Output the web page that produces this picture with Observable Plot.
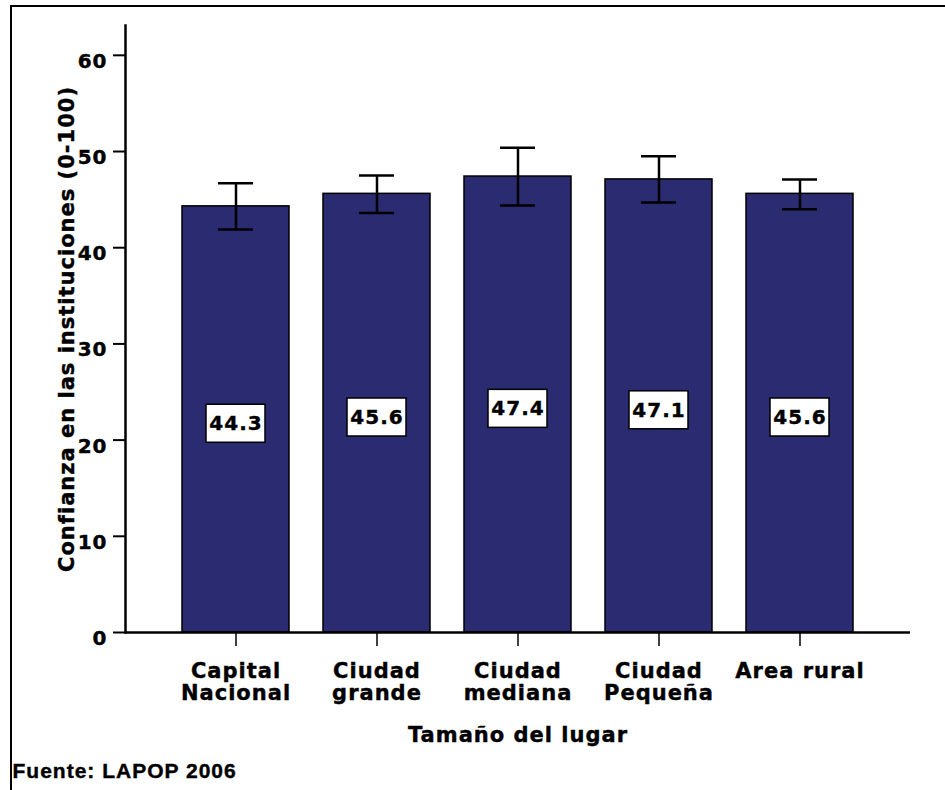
<!DOCTYPE html>
<html>
<head>
<meta charset="utf-8">
<script src="https://cdn.jsdelivr.net/npm/d3@7"></script>
<script src="https://cdn.jsdelivr.net/npm/@observablehq/plot@0.6"></script>
<style>
  html, body { margin: 0; padding: 0; background: #fff; }
  #wrap { position: relative; width: 945px; height: 790px; overflow: hidden; }
  #border { position: absolute; left: 10px; top: 5px; right: -5px; bottom: -5px;
            border-top: 2.5px solid #000; border-left: 2px solid #000; pointer-events: none; }
  svg text { letter-spacing: 1px; stroke: #000; stroke-width: 0.4px; }
  g[aria-label="valuelabel"] text { letter-spacing: 0; }
  g[aria-label="caption"] text { letter-spacing: 0; stroke-width: 0.5px; }
  g[aria-label="ytitle"] text { letter-spacing: 0.4px; }
  g[aria-label="ylabels"] text { letter-spacing: 0.5px; }
</style>
</head>
<body>
<div id="wrap"><div id="border"></div></div>
<script>
const categories = ["Capital\nNacional", "Ciudad\ngrande", "Ciudad\nmediana", "Ciudad\nPequeña", "Area rural"];
const values = [44.3, 45.6, 47.4, 47.1, 45.6];
const ciLow = [41.9, 43.6, 44.4, 44.7, 44.0];
const ciHigh = [46.7, 47.5, 50.4, 49.5, 47.1];
const yTicks = [0, 10, 20, 30, 40, 50, 60];
const yTitle = "Confianza en las instituciones (0-100)";
const xTitle = "Tamaño del lugar";
const caption = "Fuente: LAPOP 2006";

const data = categories.map((c, i) => ({cat: c, v: values[i], lo: ciLow[i], hi: ciHigh[i]}));
const labelCenter = d => d.v / 2 - 0.45;

const chart = Plot.plot({
  width: 945,
  height: 790,
  marginLeft: 125,
  marginRight: 35,
  marginTop: 25,
  marginBottom: 158,
  style: {fontFamily: "DejaVu Sans", fontWeight: "bold", color: "#000", background: "transparent", overflow: "visible"},
  x: {domain: categories, paddingInner: 0.24, paddingOuter: 0.40, label: null},
  y: {domain: [0, 63.1], label: null},
  marks: [
    Plot.barY(data, {x: "cat", y: "v", fill: "#2a2b70", stroke: "#000", strokeWidth: 1.5}),
    Plot.ruleX(data, {x: "cat", y1: "lo", y2: "hi", stroke: "#000", strokeWidth: 2.5}),
    Plot.tickY(data, {x: "cat", y: "lo", insetLeft: 36, insetRight: 36, stroke: "#000", strokeWidth: 2.5}),
    Plot.tickY(data, {x: "cat", y: "hi", insetLeft: 36, insetRight: 36, stroke: "#000", strokeWidth: 2.5}),
    Plot.barY(data, {x: "cat", y1: d => labelCenter(d) - 1.975, y2: d => labelCenter(d) + 1.975,
                     insetLeft: 24, insetRight: 24, fill: "#fff", stroke: "#000", strokeWidth: 1.5}),
    Plot.text(data, {x: "cat", y: labelCenter, text: d => d.v.toFixed(1), fontSize: 20,
                     fontWeight: "bold", fill: "#000", ariaLabel: "valuelabel"}),
    Plot.ruleY([0], {stroke: "#000", strokeWidth: 2.5}),
    Plot.frame({anchor: "left", stroke: "#000", strokeWidth: 2.5}),
    Plot.axisY({ticks: yTicks, tickSize: 12, strokeWidth: 2, tickFormat: () => "", label: null}),
    Plot.axisY({ticks: yTicks, tickSize: 0, tickPadding: 18, fontSize: 20, dy: 6,
                tickFormat: d => String(d), label: null, ariaLabel: "ylabels"}),
    Plot.axisX({tickSize: 14, tickPadding: 16, fontSize: 21, lineHeight: 1.05, strokeWidth: 1.5, label: null}),
    Plot.text([yTitle], {frameAnchor: "left", rotate: -90, dx: -58, textAnchor: "middle", text: d => d, fontSize: 21,
                         fontWeight: "bold", fill: "#000", ariaLabel: "ytitle"}),
    Plot.text([xTitle], {frameAnchor: "bottom", dy: 109, text: d => d, fontSize: 21,
                         fontWeight: "bold", fill: "#000", ariaLabel: "xtitle"}),
    Plot.text([caption], {frameAnchor: "bottom-left", dx: -113, dy: 145, textAnchor: "start", text: d => d,
                          fontSize: 21, fontWeight: "bold", fill: "#000", fontFamily: "Liberation Sans",
                          ariaLabel: "caption"})
  ]
});
document.getElementById("wrap").prepend(chart);
</script>
</body>
</html>
